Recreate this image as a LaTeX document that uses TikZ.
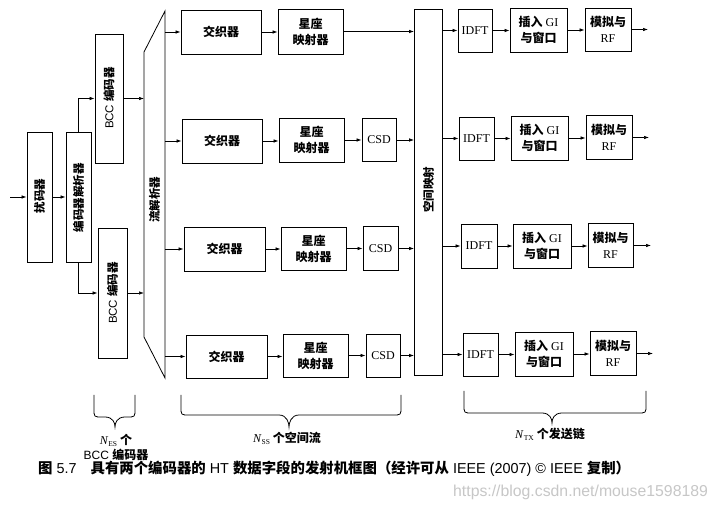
\documentclass[tikz,border=0pt]{standalone}
\usepackage{fontspec}
\setmainfont{Liberation Serif}
\setsansfont{Liberation Sans}
\newfontfamily\cjkf{Noto Sans CJK SC}
\newcommand\cjk{\cjkf\bfseries}
\usetikzlibrary{arrows.meta}
\newcommand\mybrace[6]{%
  \draw[line width=0.8pt] (#1,#4) -- (#1,#5-8) .. controls (#1,#5) .. (#1+8,#5)
    -- (#3-10,#5) .. controls (#3-2,#5) and (#3,#6-4) .. (#3,#6)
    .. controls (#3,#6-4) and (#3+2,#5) .. (#3+10,#5)
    -- (#2-8,#5) .. controls (#2,#5) .. (#2,#5-8) -- (#2,#4);}
\begin{document}
\begin{tikzpicture}[x=1pt,y=-1pt,
  blk/.style={draw, line width=0.8pt, inner sep=0pt, align=center, font=\fontsize{12}{16}\selectfont},
  wh/.style 2 args={minimum width=#1, minimum height=#2},
  rtxt/.style={rotate=90, inner sep=0pt, font=\fontsize{11.5}{13}\selectfont},
  arr/.style={line width=0.7pt, -{Latex[length=5pt,width=3.5pt]}},
  lbl/.style={inner sep=0pt, font=\fontsize{12}{14}\selectfont}]
\useasboundingbox[fill=white] (0,0) rectangle (718,510);

% left chain
\coordinate (in) at (10,197);
\node[blk, wh={25pt}{130pt}] (scr) at (39.5,197) {};
\node[rtxt] (scrT) at (39.5,196) {{\cjk 扰码器}};
\node[blk, wh={25pt}{130pt}] (par) at (78.5,197) {};
\node[rtxt] (parT) at (78.5,198) {{\cjk 编码器解析器}};
\node[blk, wh={28pt}{129pt}] (bcc1) at (109,98.5) {};
\node[rtxt] (bcc1T) at (109,98) {\sffamily BCC {\cjk 编码器}};
\node[blk, wh={29pt}{130pt}] (bcc2) at (112.5,293) {};
\node[rtxt] (bcc2T) at (112.5,293) {\sffamily BCC {\cjk 编码器}};

% stream parser
\coordinate (spTL) at (144,52);
\coordinate (spTR) at (165,11);
\coordinate (spBR) at (165,378);
\coordinate (spBL) at (144,337);
\draw[line width=0.8pt] (spTL) -- (spTR) -- (spBR) -- (spBL) -- cycle;
\node[rtxt] (spT) at (154.5,200) {{\cjk 流解析器}};

\draw[arr] (in) -- (scr.west);
\draw[arr] (scr.east) -- (par.west);
\draw[arr] (par.north) |- (bcc1.west);
\draw[arr] (par.south) |- (bcc2.west);
\draw[arr] (bcc1.east) -- (bcc1.east -| spTL);
\draw[arr] (bcc2.east) -- (bcc2.east -| spBL);

% space mapping
\node[blk, wh={28pt}{366pt}] (sm) at (428.5,192) {};
\node[rtxt] (smT) at (428.5,190) {{\cjk 空间映射}};

% middle rows
\node[blk, wh={80pt}{44pt}] (il1) at (221,32) {{\cjk 交织器}};
\node[blk, wh={65pt}{45pt}] (cm1) at (310.5,31.5) {{\cjk 星座}\\{\cjk 映射器}};

\node[blk, wh={80pt}{44pt}] (il2) at (222,141) {{\cjk 交织器}};
\node[blk, wh={65pt}{44pt}] (cm2) at (311.5,140) {{\cjk 星座}\\{\cjk 映射器}};
\node[blk, wh={34pt}{43pt}] (csd2) at (379,140) {CSD};

\node[blk, wh={81pt}{44pt}] (il3) at (224.5,249) {{\cjk 交织器}};
\node[blk, wh={65pt}{43pt}] (cm3) at (313.5,248.5) {{\cjk 星座}\\{\cjk 映射器}};
\node[blk, wh={35pt}{44pt}] (csd3) at (380.5,248.5) {CSD};

\node[blk, wh={81pt}{43pt}] (il4) at (226.5,356.5) {{\cjk 交织器}};
\node[blk, wh={65pt}{43pt}] (cm4) at (315.5,355.5) {{\cjk 星座}\\{\cjk 映射器}};
\node[blk, wh={34pt}{43pt}] (csd4) at (383,355.5) {CSD};

\draw[arr] (spTR |- il1.west) -- (il1.west);
\draw[arr] (spTR |- il2.west) -- (il2.west);
\draw[arr] (spTR |- il3.west) -- (il3.west);
\draw[arr] (spTR |- il4.west) -- (il4.west);
\draw[arr] (il1.east) -- (il1.east -| cm1.west);
\draw[arr] (il2.east) -- (il2.east -| cm2.west);
\draw[arr] (il3.east) -- (il3.east -| cm3.west);
\draw[arr] (il4.east) -- (il4.east -| cm4.west);
\draw[arr] (cm1.east) -- (cm1.east -| sm.west);
\draw[arr] (cm2.east) -- (cm2.east -| csd2.west);
\draw[arr] (cm3.east) -- (cm3.east -| csd3.west);
\draw[arr] (cm4.east) -- (cm4.east -| csd4.west);
\draw[arr] (csd2.east) -- (csd2.east -| sm.west);
\draw[arr] (csd3.east) -- (csd3.east -| sm.west);
\draw[arr] (csd4.east) -- (csd4.east -| sm.west);

% right rows
\node[blk, wh={34pt}{43pt}] (idft1) at (475,30.5) {IDFT};
\node[blk, wh={57pt}{44pt}] (gi1) at (538.5,30) {{\cjk 插入} GI\\{\cjk 与窗口}};
\node[blk, wh={46pt}{43pt}] (rf1) at (608,29.5) {{\cjk 模拟与}\\RF};

\node[blk, wh={35pt}{43pt}] (idft2) at (476.5,138.5) {IDFT};
\node[blk, wh={57pt}{44pt}] (gi2) at (539.5,138) {{\cjk 插入} GI\\{\cjk 与窗口}};
\node[blk, wh={46pt}{44pt}] (rf2) at (609,137.5) {{\cjk 模拟与}\\RF};

\node[blk, wh={36pt}{44pt}] (idft3) at (479,246) {IDFT};
\node[blk, wh={58pt}{44pt}] (gi3) at (542,246) {{\cjk 插入} GI\\{\cjk 与窗口}};
\node[blk, wh={45pt}{44pt}] (rf3) at (610.5,245.5) {{\cjk 模拟与}\\RF};

\node[blk, wh={35pt}{43pt}] (idft4) at (480.5,354.5) {IDFT};
\node[blk, wh={58pt}{44pt}] (gi4) at (544,354) {{\cjk 插入} GI\\{\cjk 与窗口}};
\node[blk, wh={46pt}{44pt}] (rf4) at (613,353.5) {{\cjk 模拟与}\\RF};

\coordinate (o1) at (648,29.5);
\coordinate (o2) at (649,137.5);
\coordinate (o3) at (651,245.5);
\coordinate (o4) at (653,353.5);

\foreach \i in {1,2,3,4}{
  \draw[arr] (sm.east |- idft\i.west) -- (idft\i.west);
  \draw[arr] (idft\i.east) -- (idft\i.east -| gi\i.west);
  \draw[arr] (gi\i.east) -- (gi\i.east -| rf\i.west);
  \draw[arr] (rf\i.east) -- (o\i);
}

% braces
\mybrace{94}{135}{115}{395}{417}{427}
\mybrace{181}{401}{289}{395}{415}{427}
\mybrace{464}{646}{552}{391}{413}{423}

\node[lbl] (nes) at (116,440) {\textit{N}\raisebox{-0.4ex}{\fontsize{7.5}{7}\selectfont ES} {\cjk 个}};
\node[lbl] (nes2) at (116,455) {\sffamily BCC {\cjk 编码器}};
\node[lbl] (nss) at (287,438) {\textit{N}\raisebox{-0.4ex}{\fontsize{7.5}{7}\selectfont SS} {\cjk 个空间流}};
\node[lbl] (ntx) at (550,434) {\textit{N}\raisebox{-0.4ex}{\fontsize{7.5}{7}\selectfont TX} {\cjk 个发送链}};

% caption
\node[anchor=west, inner sep=0pt, font=\sffamily\fontsize{14.4}{15}\selectfont] (cap) at (38,469)
  {{\cjk 图} 5.7\hspace{14pt}{\cjk 具有两个编码器的} HT {\cjk 数据字段的发射机框图（经许可从} IEEE (2007) © IEEE {\cjk 复制）}};
\node[anchor=west, inner sep=0pt, text=black!22, font=\sffamily\fontsize{15.8}{16}\selectfont] (wm) at (453,492)
  {https://blog.csdn.net/mouse1598189};
\end{tikzpicture}
\end{document}
